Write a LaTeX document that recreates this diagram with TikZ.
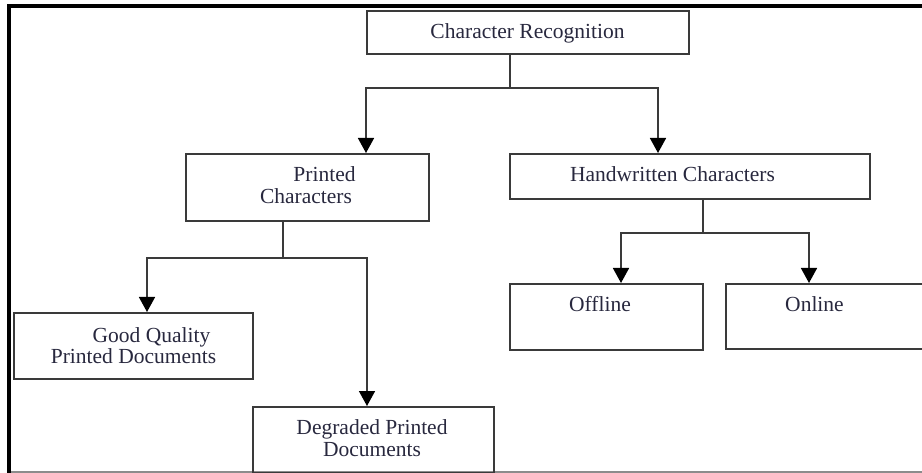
\documentclass[tikz,border=0pt]{standalone}
\usepackage{fontspec}
\setmainfont{Liberation Serif}
\usetikzlibrary{arrows.meta}
\definecolor{ink}{RGB}{40,40,62}
\definecolor{edge}{RGB}{58,58,58}
\definecolor{rule}{RGB}{140,140,140}
\begin{document}
\begin{tikzpicture}[x=1pt,y=-1pt,
  box/.style={draw=edge, line width=1.6pt, rectangle, inner sep=0pt, anchor=north west},
  lbl/.style={anchor=base, text=ink, inner sep=0pt, font=\fontsize{21.5}{26}\selectfont},
  link/.style={draw=edge, line width=1.6pt},
  arrow/.style={link, -{Triangle[width=16pt,length=15pt,fill=black,color=black]}}
]
\useasboundingbox (0,0) rectangle (922,473);
\clip (0,0) rectangle (922,473);

% outer frame: heavy top and left rules, light bottom rule
\draw[rule, line width=1.5pt] (9,472) -- (922,472);
\draw[black, line width=4pt, line join=miter] (9,473) -- (9,6) -- (922,6);

% boxes
\node[box, minimum width=322pt, minimum height=43pt] (cr)  at (366,10)  {};
\node[box, minimum width=243pt, minimum height=67pt] (pc)  at (185,153) {};
\node[box, minimum width=360pt, minimum height=45pt] (hc)  at (509,153) {};
\node[box, minimum width=239pt, minimum height=66pt] (gq)  at (13,312)  {};
\node[box, minimum width=241pt, minimum height=66pt] (dp)  at (252,406) {};
\node[box, minimum width=193pt, minimum height=66pt] (off) at (509,283) {};
\node[box, minimum width=230pt, minimum height=65pt] (on)  at (725,283) {};

% labels
\node[lbl] (t-cr)  at (527.5,39) {Character Recognition};
\node[lbl] (t-pc1) at (324.5,182) {Printed};
\node[lbl] (t-pc2) at (306,204)   {Characters};
\node[lbl] (t-hc)  at (672.5,182) {Handwritten Characters};
\node[lbl] (t-gq1) at (151.5,342) {Good Quality};
\node[lbl] (t-gq2) at (133.5,363) {Printed Documents};
\node[lbl] (t-dp1) at (372,435)   {Degraded Printed};
\node[lbl] (t-dp2) at (372,456)   {Documents};
\node[lbl] (t-off) at (600,312)   {Offline};
\node[lbl] (t-on)  at (814.5,312) {Online};

% branch points and arrow columns
\coordinate (crj) at (510,88);
\coordinate (crl) at (366,88);
\coordinate (crr) at (658,88);
\coordinate (pcj) at (283,258);
\coordinate (pcl) at (147,258);
\coordinate (pcr) at (367,258);
\coordinate (hcj) at (703,233);
\coordinate (hcl) at (621,233);
\coordinate (hcr) at (809,233);

% Character Recognition -> Printed / Handwritten
\draw[link] (crj |- cr.south) -- (crj);
\draw[arrow] (crj) -| (crl |- pc.north);
\draw[arrow] (crj) -| (crr |- hc.north);

% Printed Characters -> Good Quality / Degraded
\draw[link] (pcj |- pc.south) -- (pcj);
\draw[arrow] (pcj) -| (pcl |- gq.north);
\draw[arrow] (pcj) -| (pcr |- dp.north);

% Handwritten Characters -> Offline / Online
\draw[link] (hcj |- hc.south) -- (hcj);
\draw[arrow] (hcj) -| (hcl |- off.north);
\draw[arrow] (hcj) -| (hcr |- on.north);
\end{tikzpicture}
\end{document}
